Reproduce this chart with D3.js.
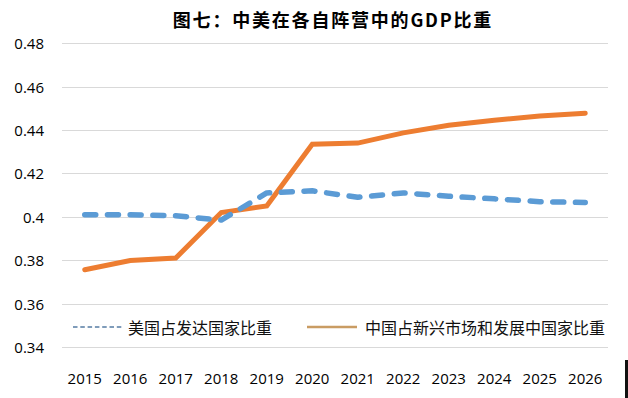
<!DOCTYPE html>
<html>
<head>
<meta charset="utf-8">
<script src="https://cdn.jsdelivr.net/npm/d3@7"></script>
<style>
    body { margin: 0; background: #fff; }
    svg { display: block; }
    .grid line { stroke: #d9d9d9; stroke-width: 1; shape-rendering: crispEdges; }
    .tick-label { font-family: "Open Sans", sans-serif; font-size: 15px; fill: #000; }
    .legend-text { font-family: "Noto Sans CJK SC", sans-serif; font-size: 16px; fill: #111; }
    .title { font-family: "Noto Sans CJK SC", sans-serif; font-size: 18px; font-weight: 700; fill: #000; }
</style>
</head>
<body>
<svg id="chart" width="628" height="398"></svg>
<script>
// categories and values
const years = ["2015", "2016", "2017", "2018", "2019", "2020", "2021", "2022", "2023", "2024", "2025", "2026"];
const usShare = [0.401, 0.401, 0.4005, 0.3985, 0.411, 0.412, 0.409, 0.411, 0.4095, 0.4083, 0.407, 0.4066];
const chinaShare = [0.3756, 0.3799, 0.381, 0.402, 0.405, 0.4335, 0.434, 0.4387, 0.4422, 0.4445, 0.4465, 0.4478];
const yTicks = [0.34, 0.36, 0.38, 0.40, 0.42, 0.44, 0.46, 0.48];
const yTickLabels = ["0.34", "0.36", "0.38", "0.4", "0.42", "0.44", "0.46", "0.48"];
const seriesNames = ["美国占发达国家比重", "中国占新兴市场和发展中国家比重"];
const chartTitle = "图七：中美在各自阵营中的GDP比重";

/** Class drawing the line chart. */
class LineChart {
    constructor() {
        this.svg = d3.select("#chart");
        this.x = d3.scalePoint().domain(years).range([62, 608]).padding(0.5);
        this.y = d3.scaleLinear().domain([0.34, 0.48]).range([347, 43.3]);
    }

    drawTitle() {
        this.svg.append("text")
            .attr("class", "title")
            .attr("x", 333)
            .attr("y", 18.5)
            .attr("text-anchor", "middle")
            .attr("dominant-baseline", "central")
            .attr("letter-spacing", "1.8px")
            .text(chartTitle);
    }

    drawAxes() {
        let y = this.y;
        let grid = this.svg.append("g").attr("class", "grid");
        grid.selectAll("line")
            .data(yTicks)
            .enter()
            .append("line")
            .attr("x1", 62)
            .attr("x2", 608)
            .attr("y1", d => Math.round(y(d)) + 0.5)
            .attr("y2", d => Math.round(y(d)) + 0.5);

        this.svg.append("g").selectAll("text")
            .data(yTicks)
            .enter()
            .append("text")
            .attr("class", "tick-label")
            .attr("x", 44)
            .attr("y", d => y(d))
            .attr("text-anchor", "end")
            .attr("dominant-baseline", "central")
            .text((d, i) => yTickLabels[i]);

        let x = this.x;
        this.svg.append("g").selectAll("text")
            .data(years)
            .enter()
            .append("text")
            .attr("class", "tick-label")
            .attr("x", d => x(d))
            .attr("y", 377.5)
            .attr("text-anchor", "middle")
            .attr("dominant-baseline", "central")
            .text(d => d);
    }

    drawLines() {
        let x = this.x, y = this.y;
        let line = d3.line()
            .x((d, i) => x(years[i]))
            .y(d => y(d));

        this.svg.append("path")
            .datum(chinaShare)
            .attr("d", line)
            .attr("fill", "none")
            .attr("stroke", "#ed7d31")
            .attr("stroke-width", 5)
            .attr("stroke-linecap", "round")
            .attr("stroke-linejoin", "miter");

        this.svg.append("path")
            .datum(usShare)
            .attr("d", line)
            .attr("fill", "none")
            .attr("stroke", "#5b9bd5")
            .attr("stroke-width", 5.5)
            .attr("stroke-dasharray", "11,11.7")
            .attr("stroke-linecap", "round")
            .attr("stroke-linejoin", "round");
    }

    drawLegend() {
        let g = this.svg.append("g");
        // US entry
        g.append("line")
            .attr("x1", 73).attr("x2", 124)
            .attr("y1", 327).attr("y2", 327)
            .attr("stroke", "#7f9cba")
            .attr("stroke-width", 2)
            .attr("stroke-dasharray", "4.5,2.8");
        g.append("text")
            .attr("class", "legend-text")
            .attr("x", 128).attr("y", 327)
            .attr("dominant-baseline", "central")
            .text(seriesNames[0]);

        // China entry
        g.append("line")
            .attr("x1", 307).attr("x2", 357)
            .attr("y1", 327).attr("y2", 327)
            .attr("stroke", "#c99c63")
            .attr("stroke-width", 2.5);
        g.append("text")
            .attr("class", "legend-text")
            .attr("x", 365).attr("y", 327)
            .attr("dominant-baseline", "central")
            .text(seriesNames[1]);
    }
}

let chart = new LineChart();
chart.drawTitle();
chart.drawAxes();
chart.drawLines();
chart.drawLegend();

// dark strip at the right edge of the screenshot
chart.svg.append("rect")
    .attr("x", 625).attr("y", 360)
    .attr("width", 3).attr("height", 38)
    .attr("fill", "#111");
</script>
</body>
</html>
